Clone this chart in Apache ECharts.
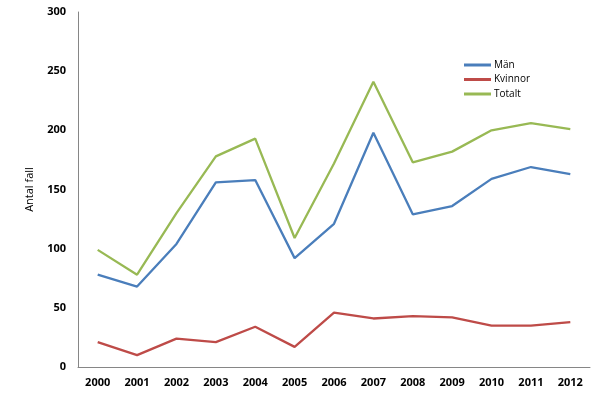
<!DOCTYPE html>
<html><head><meta charset="utf-8">
<script src="https://cdn.jsdelivr.net/npm/echarts@6/dist/echarts.min.js"></script>
<style>html,body{margin:0;padding:0;background:#fff}#c{width:609px;height:399px}</style>
</head><body><div id="c"></div>
<script>
const years = ['2000','2001','2002','2003','2004','2005','2006','2007','2008','2009','2010','2011','2012'];
const man = [78, 68, 104, 156, 158, 92, 121, 198, 129, 136, 159, 169, 163];
const kvinnor = [21, 10, 24, 21, 34, 17, 46, 41, 43, 42, 35, 35, 38];
const totalt = [99, 78, 130, 178, 193, 109, 172, 241, 173, 182, 200, 206, 201];
const yTicks = [0, 50, 100, 150, 200, 250, 300];

const chart = echarts.init(document.getElementById('c'));
const font = '"Open Sans", "DejaVu Sans", sans-serif';
function ser(name, data, color) {
  return { name, type: 'line', data, symbol: 'none', smooth: false,
    lineStyle: { color, width: 2.3 }, itemStyle: { color } };
}
chart.setOption({
  animation: false,
  grid: { left: 78, right: 19, top: 12, bottom: 32 },
  legend: {
    orient: 'vertical', left: 459, top: 54, icon: 'rect',
    itemWidth: 27, itemHeight: 3, itemGap: 2.5,
    textStyle: { fontFamily: font, fontSize: 10, fontWeight: 500, color: '#000', lineHeight: 12, padding: [0,0,0,-2] },
    data: ['Män', 'Kvinnor', 'Totalt']
  },
  xAxis: {
    type: 'category', data: years, boundaryGap: true,
    axisLine: { lineStyle: { color: '#868686', width: 1 } },
    axisTick: { show: false },
    axisLabel: { fontFamily: font, fontWeight: 'bold', fontSize: 11, color: '#000', margin: 10 }
  },
  yAxis: {
    type: 'value', min: yTicks[0], max: yTicks[yTicks.length - 1], interval: 50,
    name: 'Antal fall', nameLocation: 'middle', nameGap: 43, nameRotate: 90,
    nameTextStyle: { fontFamily: font, fontSize: 11, color: '#000' },
    axisLine: { show: true, lineStyle: { color: '#868686', width: 1 } },
    axisTick: { show: false },
    splitLine: { show: false },
    axisLabel: { fontFamily: font, fontWeight: 'bold', fontSize: 11, color: '#000', margin: 12 }
  },
  series: [
    ser('Män', man, '#4A7EBB'),
    ser('Kvinnor', kvinnor, '#BE4B48'),
    ser('Totalt', totalt, '#98B954')
  ]
});
</script></body></html>
